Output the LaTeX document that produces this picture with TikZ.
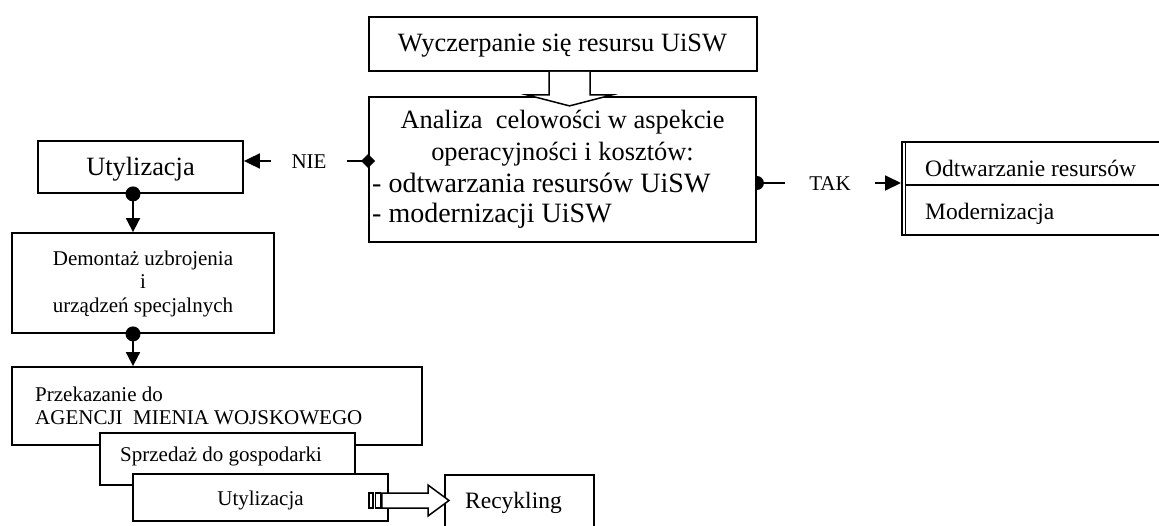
\documentclass[tikz,border=0pt]{standalone}
\usepackage{fontspec}
\setmainfont{Liberation Serif}
\usetikzlibrary{arrows.meta,calc}
\begin{document}
\begin{tikzpicture}[x=1pt,y=-1pt,line join=miter,
  box/.style={draw,line width=1.8pt,fill=white,inner sep=0pt,rectangle},
  big/.style={font=\fontsize{26.4}{31}\selectfont,inner sep=0pt},
  bigw/.style={font=\fontsize{28}{31}\selectfont,inner sep=0pt},
  sml/.style={font=\fontsize{21}{23}\selectfont,inner sep=0pt},
  mid/.style={font=\fontsize{23.5}{27}\selectfont,inner sep=0pt},
  conn/.style={line width=1.8pt},
  triL/.style={-{Triangle[length=16pt,width=15pt]}},
  triD/.style={-{Triangle[length=14pt,width=14pt]}},
  blk/.style={draw,line width=1.5pt,fill=white}]
\useasboundingbox (0,0) rectangle (1159,525);
\clip (0,0) rectangle (1159,525);

% boxes
\node[box,minimum width=388pt,minimum height=54pt] (top) at (563,44) {};
\node[box,minimum width=387pt,minimum height=145pt] (ana) at (562.5,169.5) {};
\node[box,minimum width=205pt,minimum height=52pt] (utyl) at (140.5,167) {};
\node[box,minimum width=262pt,minimum height=100pt] (dem) at (143,283) {};
\node[box,minimum width=410pt,minimum height=78pt] (prz) at (217,406) {};
\node[sml,anchor=base west] (tP1) at (35,401) {Przekazanie do};
\node[sml,anchor=base west] (tP2) at (35,424) {AGENCJI\ \ MIENIA WOJSKOWEGO};
\node[box,minimum width=255pt,minimum height=52pt] (spr) at (227.5,459) {};
\node[box,minimum width=255pt,minimum height=47pt] (uty2) at (260.5,497.5) {};
\node[box,minimum width=149pt,minimum height=70pt,anchor=north west] (rec) at (444,474) {};
\node[box,minimum width=280pt,minimum height=93pt,anchor=north west] (rb) at (901,141) {};
\draw[line width=1.4pt] ([xshift=4.5pt]rb.north west) -- ([xshift=4.5pt]rb.south west);
\coordinate (rdiv) at ($(rb.north west)+(4.5,44)$);
\draw[conn] (rdiv) -- (rdiv -| rb.east);

% texts
\node[big,anchor=base] (tTop) at (562.5,51) {Wyczerpanie się resursu UiSW};
\node[big,anchor=base] (a1) at (562.5,128.5) {Analiza\ \ celowości w aspekcie};
\node[big,anchor=base] (a2) at (562.5,160) {operacyjności i kosztów:};
\node[bigw,anchor=base west] (a3) at (372,192.5) {- odtwarzania resursów UiSW};
\node[bigw,anchor=base west] (a4) at (372,222) {- modernizacji UiSW};
\node[big,anchor=base] (tUt) at (140.5,175.5) {Utylizacja};
\node[sml,anchor=base] (tD1) at (143,265) {Demontaż uzbrojenia};
\node[sml,anchor=base] (tD2) at (143,288) {i};
\node[sml,anchor=base] (tD3) at (143,312) {urządzeń specjalnych};
\node[sml,anchor=base west] (tS) at (120,461.5) {Sprzedaż do gospodarki};
\node[sml,anchor=base] (tU2) at (260.5,505.5) {Utylizacja};
\node[mid,anchor=base west] (tR) at (465,508) {Recykling};
\node[mid,anchor=base west] (tO) at (925,176) {Odtwarzanie resursów};
\node[mid,anchor=base west] (tM) at (925,219) {Modernizacja};

% NIE branch
\coordinate (dN) at ($(ana.west)+(0,-8.5)$);
\node[sml,inner xsep=20.5pt] (nie) at (309,162) {NIE};
\draw[conn] (dN) -- (nie.east |- dN);
\draw[conn,triL] (nie.west |- dN) -- (utyl.east |- dN);
\fill (dN) +(-7,0) -- +(0,-7) -- +(7,0) -- +(0,7) -- cycle;

% TAK branch
\coordinate (dT) at ($(ana.east)+(0,13.5)$);
\node[sml,inner xsep=24pt] (tak) at (830,183.5) {TAK};
\draw[conn] (dT) -- (tak.west |- dT);
\draw[conn,triL] (tak.east |- dT) -- (rb.west |- dT);
\begin{scope}
  \clip (dT) ++(0,-9) rectangle ++(10,18);
  \fill (dT) circle[radius=7pt];
\end{scope}

% vertical chain
\coordinate (d1) at ($(utyl.south)+(-7.5,0)$);
\coordinate (d2) at (d1 |- dem.south);
\draw[conn,triD] (d1) -- (d1 |- dem.north);
\fill (d1) circle[radius=7.5pt];
\draw[conn,triD] (d2) -- (d2 |- prz.north);
\fill (d2) circle[radius=7.5pt];

% block arrow top -> analiza
\coordinate (ba) at ($(top.south)+(6.5,0)$);
\path[blk] ($(ba)+(-20.5,0)$) -- ($(ba)+(-20.5,23)$) -- ($(ba)+(-42.5,23)$)
  -- ($(ba)+(0,34)$) -- ($(ba)+(42.5,23)$) -- ($(ba)+(20.5,23)$) -- ($(ba)+(20.5,0)$);

% striped block arrow utylizacja -> recykling
\coordinate (sa) at ($(uty2.east)+(0,3)$);
\coordinate (sb) at (rec.west |- sa);
\path[blk,line width=1.2pt] ($(sa)+(-20,-7.5)$) rectangle ($(sa)+(-16,7.5)$);
\path[blk,line width=1.2pt] ($(sa)+(-13.5,-7.5)$) rectangle ($(sa)+(-8.5,7.5)$);
\path[blk] ($(sa)+(-7,-7.5)$) -- ($(sb)+(-16,-7.5)$) -- ($(sb)+(-16,-15.5)$)
  -- ($(sb)+(5,0)$) -- ($(sb)+(-16,15.5)$) -- ($(sb)+(-16,7.5)$)
  -- ($(sa)+(-7,7.5)$) -- cycle;
\end{tikzpicture}
\end{document}
